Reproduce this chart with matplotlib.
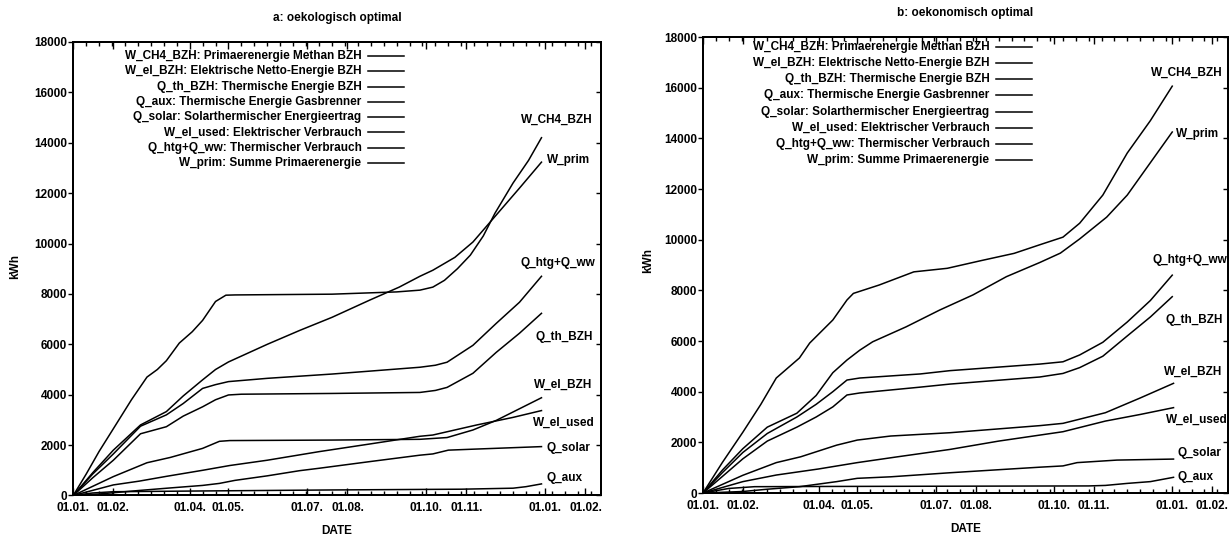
import numpy as np
import matplotlib
matplotlib.use("Agg")
import matplotlib.pyplot as plt
from matplotlib.ticker import MultipleLocator

plt.rcParams['font.family'] = ['Liberation Sans', 'DejaVu Sans']
plt.rcParams['font.weight'] = 'bold'
plt.rcParams['font.size'] = 8.5

# ---- data (day of year -> cumulative kWh) ----
names = ['W_CH4_BZH', 'W_el_BZH', 'Q_th_BZH', 'Q_aux',
         'Q_solar', 'W_el_used', 'Q_htg+Q_ww', 'W_prim']
descriptions = ['Primaerenergie Methan BZH', 'Elektrische Netto-Energie BZH',
                'Thermische Energie BZH', 'Thermische Energie Gasbrenner',
                'Solarthermischer Energieertrag', 'Elektrischer Verbrauch',
                'Thermischer Verbrauch', 'Summe Primaerenergie']

tick_days = [0, 31, 90, 120, 181, 212, 273, 304, 365, 396]
tick_labels = ['01.01.', '01.02.', '01.04.', '01.05.', '01.07.', '01.08.',
               '01.10.', '01.11.', '01.01.', '01.02.']

# a: oekologisch optimal
a_W_CH4_BZH_d = [0, 10, 20, 31, 45, 57, 65, 72, 82, 92, 100, 110, 118, 125, 150, 200,
                 250, 268, 278, 287, 297, 307, 317, 326, 340, 352, 362]
a_W_CH4_BZH = [0, 850, 1750, 2650, 3800, 4700, 5000, 5350, 6050, 6500, 6950, 7700, 7950,
               7960, 7970, 7990, 8080, 8150, 8270, 8540, 9000, 9540, 10300, 11200,
               12400, 13300, 14200]
a_W_prim_d = [0, 15, 31, 52, 72, 85, 100, 110, 120, 135, 150, 175, 200, 229, 252,
              268, 278, 295, 309, 327, 345, 362]
a_W_prim = [0, 900, 1800, 2800, 3330, 3950, 4590, 5000, 5300, 5650, 6000, 6550, 7070,
            7750, 8270, 8700, 8940, 9450, 10060, 11130, 12200, 13230]
a_Q_htg_d = [0, 15, 31, 52, 72, 85, 100, 110, 120, 150, 200, 268, 280, 289, 309,
             327, 345, 362]
a_Q_htg = [0, 850, 1650, 2750, 3200, 3650, 4250, 4400, 4520, 4650, 4820, 5090, 5170,
           5290, 5960, 6830, 7670, 8700]
a_Q_th_d = [0, 15, 31, 52, 72, 85, 100, 110, 120, 130, 200, 268, 280, 289, 309,
            327, 345, 362]
a_Q_th = [0, 700, 1400, 2450, 2730, 3150, 3520, 3800, 3990, 4020, 4050, 4090, 4170,
          4290, 4850, 5680, 6440, 7230]
a_W_el_BZH_d = [0, 31, 57, 75, 100, 113, 121, 200, 268, 280, 289, 309, 327, 362]
a_W_el_BZH = [0, 750, 1300, 1510, 1870, 2150, 2180, 2200, 2230, 2270, 2300, 2600,
              2980, 3880]
a_W_el_used_d = [0, 31, 51, 72, 100, 121, 150, 190, 230, 268, 278, 312, 340, 362]
a_W_el_used = [0, 420, 570, 760, 1000, 1190, 1400, 1740, 2050, 2350, 2400, 2800,
               3100, 3370]
a_Q_solar_d = [0, 20, 51, 75, 100, 113, 125, 150, 175, 190, 230, 268, 278, 290,
               310, 362]
a_Q_solar = [0, 60, 200, 300, 400, 480, 600, 780, 985, 1080, 1350, 1600, 1650, 1800,
             1840, 1940]
a_Q_aux_d = [0, 15, 31, 100, 200, 300, 340, 350, 362]
a_Q_aux = [0, 100, 150, 180, 220, 250, 290, 350, 460]

# b: oekonomisch optimal
b_W_CH4_BZH_d = [0, 15, 31, 45, 57, 75, 83, 101, 112, 117, 137, 164, 190, 216, 242,
                 262, 280, 293, 311, 330, 348, 365]
b_W_CH4_BZH = [0, 1200, 2400, 3500, 4540, 5330, 5920, 6830, 7620, 7880, 8210, 8730,
               8870, 9170, 9460, 9800, 10100, 10650, 11760, 13420, 14700, 16060]
b_W_prim_d = [0, 15, 31, 50, 73, 88, 101, 112, 122, 132, 158, 184, 210, 236, 262,
              278, 293, 314, 330, 365]
b_W_prim = [0, 900, 1750, 2600, 3150, 3850, 4750, 5250, 5640, 5970, 6560, 7220, 7820,
            8540, 9100, 9470, 10030, 10890, 11760, 14250]
b_Q_htg_d = [0, 15, 31, 50, 73, 88, 101, 112, 122, 169, 192, 262, 280, 293, 311,
             330, 348, 365]
b_Q_htg = [0, 800, 1600, 2350, 3000, 3500, 4000, 4460, 4540, 4700, 4830, 5090, 5180,
           5450, 5950, 6750, 7600, 8600]
b_Q_th_d = [0, 15, 31, 50, 73, 88, 101, 112, 122, 169, 192, 262, 280, 293, 311,
            330, 348, 365]
b_Q_th = [0, 650, 1350, 2050, 2600, 3000, 3400, 3870, 3950, 4180, 4300, 4580, 4720,
          4950, 5400, 6200, 6950, 7750]
b_W_el_BZH_d = [0, 31, 57, 76, 104, 120, 146, 192, 262, 280, 313, 340, 366]
b_W_el_BZH = [0, 700, 1200, 1430, 1890, 2090, 2250, 2380, 2660, 2750, 3170, 3750, 4330]
b_W_el_used_d = [0, 31, 57, 90, 120, 150, 192, 230, 280, 313, 340, 366]
b_W_el_used = [0, 450, 710, 950, 1200, 1420, 1720, 2050, 2420, 2840, 3100, 3370]
b_Q_solar_d = [0, 31, 50, 75, 104, 120, 146, 192, 230, 262, 280, 291, 322, 366]
b_Q_solar = [0, 60, 150, 250, 450, 580, 640, 800, 920, 1020, 1070, 1200, 1300, 1340]
b_Q_aux_d = [0, 20, 40, 100, 200, 300, 313, 330, 348, 366]
b_Q_aux = [0, 180, 250, 260, 270, 280, 300, 380, 450, 620]

# curve end labels: (day, kWh, alignment)
a_label_pos = [(401.5, 14900, 'right'), (401.5, 4390, 'right'), (401.5, 6290, 'right'),
               (366, 700, 'left'), (366, 1890, 'left'), (403.5, 2880, 'right'),
               (403.5, 9230, 'right'), (366, 13320, 'left')]
b_label_pos = [(404.5, 16590, 'right'), (404, 4780, 'right'), (404, 6830, 'right'),
               (369, 630, 'left'), (369, 1580, 'left'), (408, 2880, 'right'),
               (408, 9200, 'right'), (368, 14170, 'left')]

panel_a = [(a_W_CH4_BZH_d, a_W_CH4_BZH), (a_W_el_BZH_d, a_W_el_BZH), (a_Q_th_d, a_Q_th),
           (a_Q_aux_d, a_Q_aux), (a_Q_solar_d, a_Q_solar), (a_W_el_used_d, a_W_el_used),
           (a_Q_htg_d, a_Q_htg), (a_W_prim_d, a_W_prim)]
panel_b = [(b_W_CH4_BZH_d, b_W_CH4_BZH), (b_W_el_BZH_d, b_W_el_BZH), (b_Q_th_d, b_Q_th),
           (b_Q_aux_d, b_Q_aux), (b_Q_solar_d, b_Q_solar), (b_W_el_used_d, b_W_el_used),
           (b_Q_htg_d, b_Q_htg), (b_W_prim_d, b_W_prim)]


def draw_panel(ax, title, series, label_pos, leg_top, leg_step):
    for (d, v), lp, name in zip(series, label_pos, names):
        ax.plot(d, v, color='black', lw=1.1, solid_joinstyle='round')
        ax.text(lp[0], lp[1], name, ha=lp[2], va='center', fontsize=8.5)

    # gnuplot style key: right aligned text, sample line to the right
    for i, (name, desc) in enumerate(zip(names, descriptions)):
        y = leg_top - i * leg_step
        ax.text(0.546, y, name + ': ' + desc, transform=ax.transAxes,
                ha='right', va='center', fontsize=8.5)
        ax.plot([0.558, 0.627], [y, y], transform=ax.transAxes, color='black', lw=1.1)

    ax.set_xlim(0, 408)
    ax.set_ylim(0, 18000)
    ax.set_xticks(tick_days)
    ax.set_xticklabels(tick_labels)
    ax.xaxis.set_minor_locator(MultipleLocator(10))
    ax.set_yticks(np.arange(0, 18001, 2000))
    ax.tick_params(axis='x', which='both', direction='in', top=True, bottom=True,
                   width=1.0, pad=5)
    ax.tick_params(axis='x', which='major', length=5)
    ax.tick_params(axis='x', which='minor', length=2.8)
    ax.tick_params(axis='y', direction='out', length=3.3, width=1.0, pad=1)

    right = ax.twinx()
    right.set_ylim(ax.get_ylim())
    right.set_yticks(np.arange(0, 18001, 2000))
    right.tick_params(axis='y', direction='in', length=3.5, width=1.0, labelright=False)

    for a in (ax, right):
        for s in a.spines.values():
            s.set_linewidth(1.4)

    ax.set_title(title, y=1.052, pad=0, va='center', fontsize=8.5, fontweight='bold')
    ax.set_xlabel('DATE', fontweight='bold')
    ax.xaxis.set_label_coords(0.5, -0.079)
    ax.xaxis.label.set_va('center')
    ax.set_ylabel('kWh', fontweight='bold')
    ax.yaxis.label.set_va('center')


fig = plt.figure(figsize=(12.29, 5.38), dpi=100)
ax_a = fig.add_axes([0.0596, 0.079, 0.4294, 0.843])
ax_b = fig.add_axes([0.572, 0.0836, 0.4268, 0.8476])

draw_panel(ax_a, 'a: oekologisch optimal', panel_a, a_label_pos, 0.969, 0.0337)
ax_a.yaxis.set_label_coords(-0.11, 0.505)
draw_panel(ax_b, 'b: oekonomisch optimal', panel_b, b_label_pos, 0.979, 0.0356)
ax_b.yaxis.set_label_coords(-0.105, 0.51)

fig.savefig('out.png', dpi=100)
